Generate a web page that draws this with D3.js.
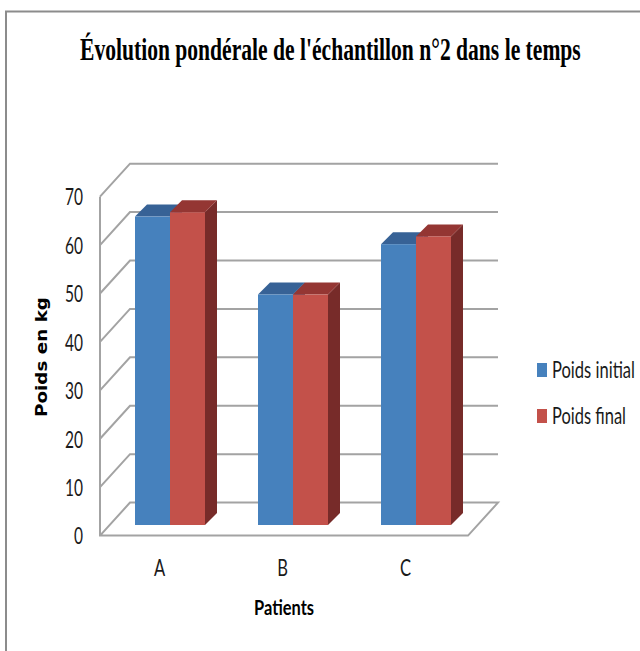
<!DOCTYPE html>
<html>
<head>
<meta charset="utf-8">
<script src="https://d3js.org/d3.v7.min.js"></script>
<style>
  html, body { margin: 0; padding: 0; background: #fff; }
  svg { display: block; }
  .narrow { font-family: Lato, "Open Sans", sans-serif; fill: #1a1a1a; }
</style>
</head>
<body>
<div class="chart"></div>
<script>
const categories = ["A", "B", "C"];
const seriesNames = ["Poids initial", "Poids final"];
const poidsInitial = [63.7, 47.6, 58.0];
const poidsFinal = [64.6, 47.6, 59.6];
const yTicks = [0, 10, 20, 30, 40, 50, 60, 70];

const width = 640, height = 651;

// 3d offsets of the walls and the bars
const wallDx = 30, wallDy = -33;
const barDx = 12, barDy = -12;
const barShift = -10.6;
const floorRight = 468;

const colors = {
    "Poids initial": { front: "#4681bd", top: "#376296", side: "#2f5480" },
    "Poids final": { front: "#c3514a", top: "#943633", side: "#772b29" }
};
const gridColor = "#a3a3a3";

let svg = d3.select(".chart").append("svg")
    .attr("width", width)
    .attr("height", height);

// squeeze or stretch a text to a given width, the original fonts are not installed
function fitWidth(selection, w) {
    selection.each(function (d, i) {
        const target = typeof w === "function" ? w.call(this, d, i) : w;
        const f = target / this.getComputedTextLength();
        const x = +d3.select(this).attr("x") || 0;
        d3.select(this).attr("transform", `translate(${x},0) scale(${f},1) translate(${-x},0)`);
    });
}

// outer frame, only top and left show up in the picture
svg.append("path")
    .attr("d", "M6,651V11.5H640")
    .attr("fill", "none")
    .attr("stroke", "#8c8c8c")
    .attr("stroke-width", 2);

svg.append("text")
    .attr("x", 80)
    .attr("y", 60)
    .attr("font-family", "Liberation Serif")
    .attr("font-weight", "bold")
    .attr("font-size", 32)
    .attr("fill", "#000")
    .text("Évolution pondérale de l'échantillon n°2 dans le temps")
    .call(fitWidth, 501);

const xScale = d3.scaleBand()
    .domain(categories)
    .range([100, 469]);

const xInner = d3.scaleBand()
    .domain(seriesNames)
    .range([35, 105]);

const yScale = d3.scaleLinear()
    .domain([0, 70])
    .range([535.6, 196.7]);

// walls
const line = d3.line();

svg.append("g")
    .selectAll("path")
    .data(yTicks.filter(d => d > 0))
    .enter()
    .append("path")
    .attr("d", d => line([
        [100, yScale(d)],
        [100 + wallDx, yScale(d) + wallDy],
        [floorRight + wallDx, yScale(d) + wallDy]
    ]))
    .attr("fill", "none")
    .attr("stroke", gridColor)
    .attr("stroke-width", 2);

// floor
svg.append("path")
    .attr("d", line([
        [100, yScale(70)],
        [100, yScale(0)],
        [floorRight, yScale(0)],
        [floorRight + wallDx, yScale(0) + wallDy],
        [100 + wallDx, yScale(0) + wallDy],
        [100, yScale(0)]
    ]))
    .attr("fill", "none")
    .attr("stroke", gridColor)
    .attr("stroke-width", 2);

// bars
const barData = [];
categories.forEach((c, i) => {
    barData.push({ category: c, series: seriesNames[0], value: poidsInitial[i] });
    barData.push({ category: c, series: seriesNames[1], value: poidsFinal[i] });
});

const bars = svg.append("g")
    .selectAll("g")
    .data(barData)
    .enter()
    .append("g");

bars.each(function (d) {
    const g = d3.select(this);
    const x0 = xScale(d.category) + xInner(d.series);
    const x1 = x0 + xInner.bandwidth();
    const yTop = yScale(d.value) + barShift;
    const yBase = yScale(0) + barShift;
    const c = colors[d.series];

    g.append("path")
        .attr("d", line([[x1, yBase], [x1 + barDx, yBase + barDy], [x1 + barDx, yTop + barDy], [x1, yTop]]) + "Z")
        .attr("fill", c.side);

    g.append("path")
        .attr("d", line([[x0, yTop], [x0 + barDx, yTop + barDy], [x1 + barDx, yTop + barDy], [x1, yTop]]) + "Z")
        .attr("fill", c.top);

    g.append("rect")
        .attr("x", x0)
        .attr("y", yTop)
        .attr("width", x1 - x0)
        .attr("height", yBase - yTop)
        .attr("fill", c.front);
});

// axes, labels only
let yAxis = d3.axisLeft(yScale)
    .tickValues(yTicks)
    .tickSize(0)
    .tickPadding(17);

let yG = svg.append("g")
    .attr("transform", "translate(100,0)")
    .call(yAxis);
yG.select(".domain").remove();
yG.selectAll("text")
    .attr("class", "narrow")
    .attr("font-size", 23)
    .attr("dy", "0.36em")
    .call(fitWidth, d => d === 0 ? 9 : 18);

let xAxis = d3.axisBottom(xScale)
    .tickSize(0)
    .tickPadding(0);

let xG = svg.append("g")
    .attr("transform", "translate(-2,560)")
    .call(xAxis);
xG.select(".domain").remove();
xG.selectAll("text")
    .attr("class", "narrow")
    .attr("font-size", 23)
    .attr("dy", "0.71em")
    .attr("x", d => 0)
    .call(fitWidth, function () { return this.getComputedTextLength() * 0.72; });

svg.append("text")
    .attr("class", "narrow")
    .attr("x", 284)
    .attr("y", 615)
    .attr("text-anchor", "middle")
    .attr("font-size", 21)
    .attr("font-weight", "bold")
    .style("fill", "#000")
    .text("Patients")
    .call(fitWidth, 60);

svg.append("g")
    .attr("transform", "translate(47,357) rotate(-90)")
    .append("text")
    .attr("text-anchor", "middle")
    .attr("font-family", "DejaVu Sans")
    .attr("font-weight", "bold")
    .attr("font-size", 16)
    .attr("fill", "#000")
    .text("Poids en kg")
    .call(fitWidth, 120);

// legend
const legendWidths = [83, 74];

const legend = svg.append("g")
    .selectAll("g")
    .data(seriesNames)
    .enter()
    .append("g")
    .attr("transform", (d, i) => `translate(537,${363 + i * 46})`);

legend.append("rect")
    .attr("width", 10)
    .attr("height", 14)
    .attr("fill", d => colors[d].front);

legend.append("text")
    .attr("class", "narrow")
    .attr("x", 15)
    .attr("y", 15)
    .attr("font-size", 23)
    .text(d => d)
    .call(fitWidth, (d, i) => legendWidths[i]);
</script>
</body>
</html>
